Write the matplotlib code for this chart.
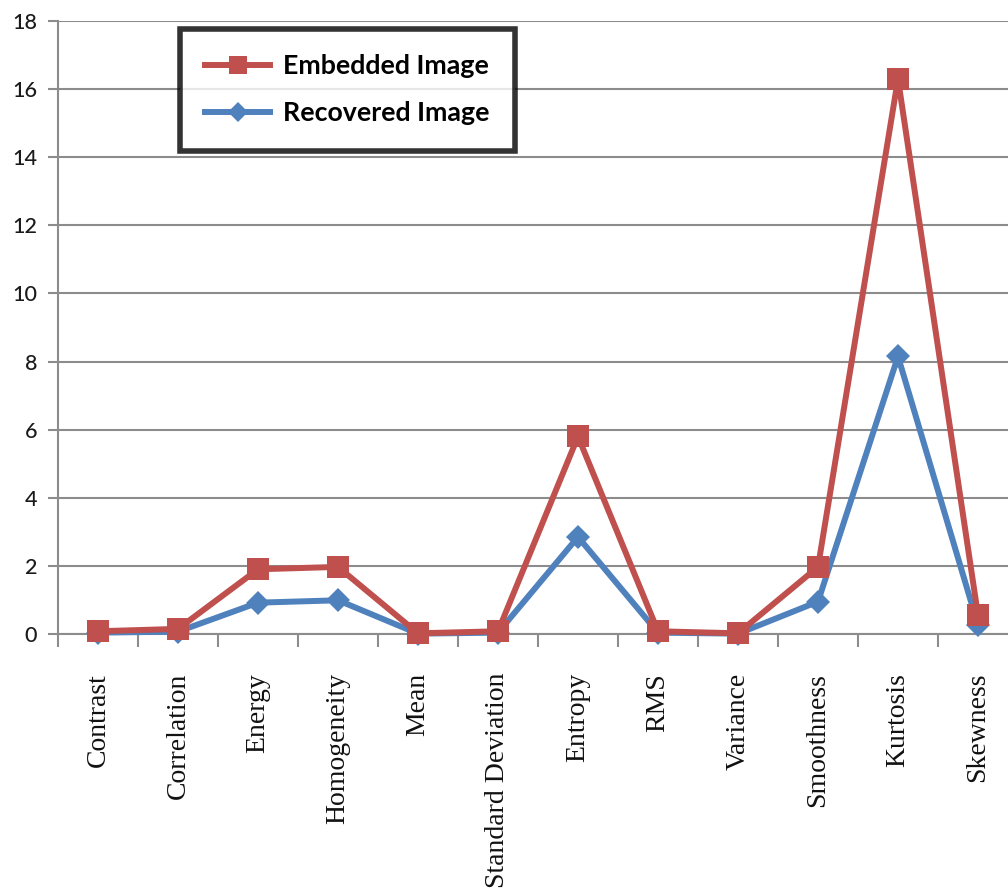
import matplotlib
matplotlib.use("Agg")
import matplotlib.pyplot as plt
from matplotlib.ticker import FixedLocator

# data
categories = ["Contrast", "Correlation", "Energy", "Homogeneity", "Mean",
              "Standard Deviation", "Entropy", "RMS", "Variance",
              "Smoothness", "Kurtosis", "Skewness"]
embedded = [0.08, 0.15, 1.90, 1.97, 0.02, 0.08, 5.80, 0.08, 0.02, 1.97, 16.30, 0.55]
recovered = [0.04, 0.07, 0.92, 0.99, 0.01, 0.04, 2.85, 0.04, 0.01, 0.95, 8.15, 0.26]
y_ticks = [0, 2, 4, 6, 8, 10, 12, 14, 16, 18]

RED = "#C0504D"
BLUE = "#4F81BD"
GRID = "#8C8C8C"

fig = plt.figure(figsize=(10.08, 8.91), dpi=100)
ax = fig.add_axes([58 / 1008, 1 - 634 / 891, 960 / 1008, 613 / 891])

x = list(range(len(categories)))
ln_rec, = ax.plot(x, recovered, color=BLUE, lw=4.3, marker="D",
                  markersize=12, markeredgewidth=0, label="Recovered Image",
                  zorder=3, clip_on=False)
ln_emb, = ax.plot(x, embedded, color=RED, lw=4.3, marker="s",
                  markersize=16, markeredgewidth=0, label="Embedded Image",
                  zorder=4, clip_on=False)

ax.set_xlim(-0.5, len(categories) - 0.5)
ax.set_ylim(0, 18)
ax.set_yticks(y_ticks)
ax.yaxis.grid(True, color=GRID, lw=1.5)
ax.set_axisbelow(True)

for s in ["top", "right"]:
    ax.spines[s].set_visible(False)
for s in ["left", "bottom"]:
    ax.spines[s].set_color(GRID)
    ax.spines[s].set_linewidth(1.5)

# category labels at centres, tick marks between categories
ax.set_xticks(x)
ax.set_xticklabels(categories, rotation=90, family="Liberation Serif",
                   fontsize=20, color="#111111")
ax.tick_params(axis="x", which="major", length=0, pad=28)
ax.xaxis.set_minor_locator(FixedLocator([i - 0.5 for i in range(len(categories) + 1)]))
ax.tick_params(axis="x", which="minor", length=9, width=1.5, color=GRID)
ax.tick_params(axis="y", length=7, width=1.5, color=GRID, pad=8,
               labelsize=15.5, labelcolor="#1a1a1a")
for lab in ax.get_yticklabels():
    lab.set_family("Lato")
    lab.set_weight("medium")

leg = ax.legend(handles=[ln_emb, ln_rec], loc="upper left",
                bbox_to_anchor=(122 / 960, 1 - 8 / 613), borderaxespad=0,
                prop={"family": "Lato", "weight": "bold", "size": 19.3},
                frameon=True, fancybox=False, handlelength=2.4,
                handletextpad=0.5, borderpad=0.95, labelspacing=0.85,
                markerscale=0.85)
leg.get_frame().set_edgecolor("black")
leg.get_frame().set_linewidth(4)

fig.savefig("out.png", dpi=100)
